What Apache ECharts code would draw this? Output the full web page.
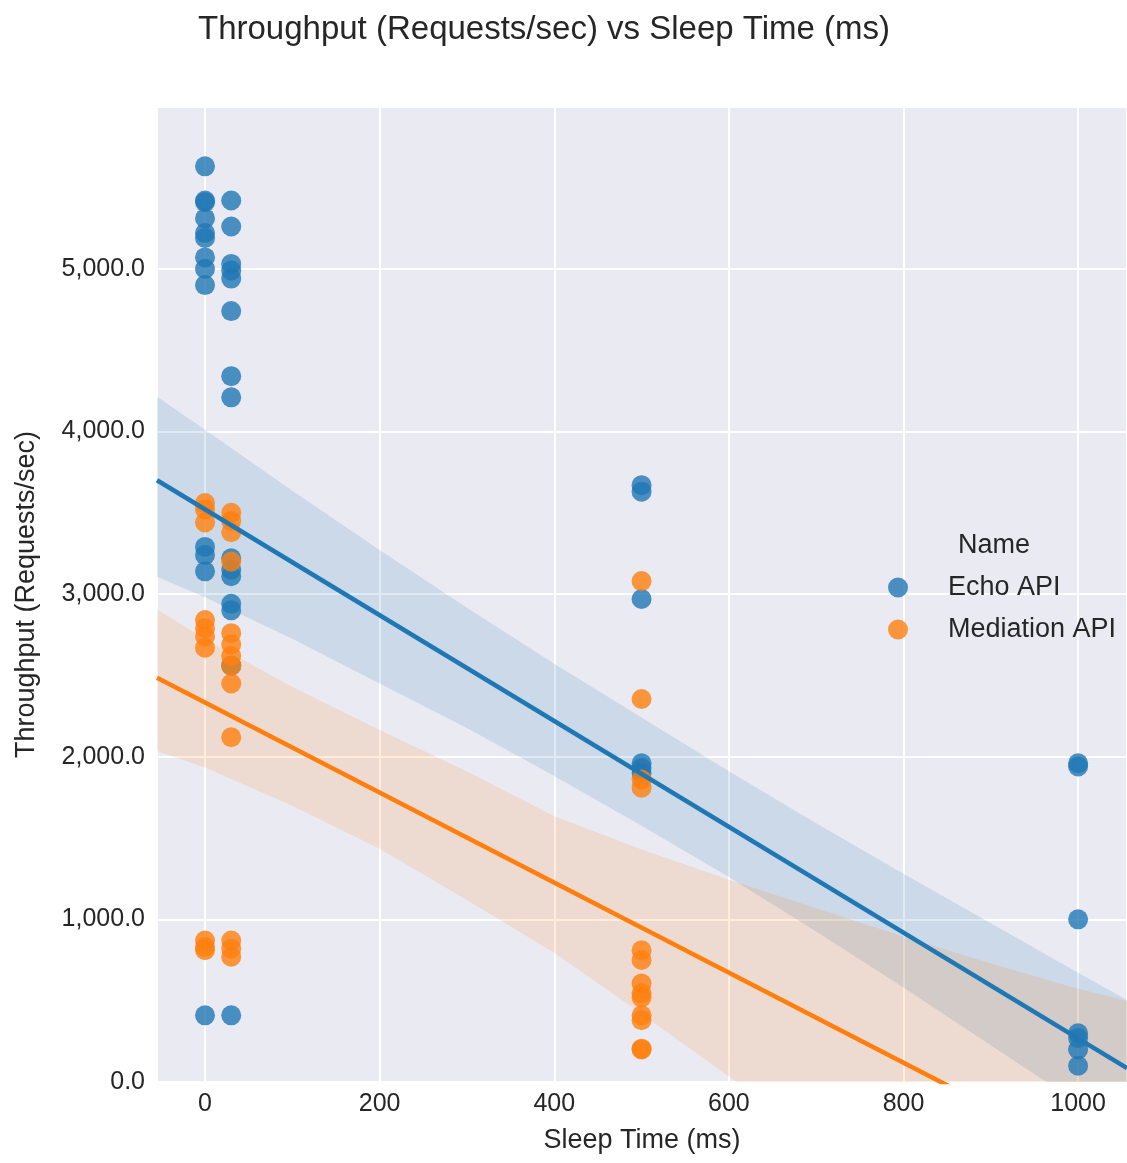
<!DOCTYPE html>
<html>
<head>
<meta charset="utf-8">
<script src="https://cdn.jsdelivr.net/npm/echarts@6/dist/echarts.min.js"></script>
<style>
  html, body { margin: 0; padding: 0; background: #ffffff; }
  #chart { width: 1127px; height: 1163px; }
</style>
</head>
<body>
<div id="chart"></div>
<script>
// Echo API measurements: sleep time (ms) and throughput (requests/sec)
const echoSleep = [
  0, 0, 0, 0, 0, 0, 0, 0, 0, 0, 0, 0, 0,
  30, 30, 30, 30, 30, 30, 30, 30, 30, 30, 30, 30, 30, 30, 30,
  500, 500, 500, 500, 500, 500,
  1000, 1000, 1000, 1000, 1000, 1000, 1000
];
const echoThroughput = [
  5630, 5420, 5410, 5310, 5220, 5190, 5070, 5000, 4900, 3290, 3240, 3140, 410,
  5420, 5260, 5030, 4990, 4940, 4740, 4340, 4210, 3220, 3150, 3110, 2940, 2900, 2560, 410,
  3670, 3630, 2970, 1960, 1930, 1900,
  1960, 1940, 1000, 300, 270, 200, 100
];

// Mediation API measurements
const mediationSleep = [
  0, 0, 0, 0, 0, 0, 0, 0, 0, 0,
  30, 30, 30, 30, 30, 30, 30, 30, 30, 30, 30, 30, 30,
  500, 500, 500, 500, 500, 500, 500, 500, 500, 500, 500, 500, 500
];
const mediationThroughput = [
  3560, 3520, 3440, 2840, 2790, 2740, 2670, 870, 830, 810,
  3500, 3450, 3380, 3200, 2760, 2690, 2620, 2560, 2450, 2120, 870, 820, 770,
  3080, 2355, 1860, 1810, 810, 750, 605, 545, 520, 410, 380, 205, 200
];

// Fitted regression lines (ends of the plotted x range)
const fitSleep = [-55, 1056];
const echoFit = [3700, 86];
const mediationFit = [2485, -590];

// 95% confidence bands around each fit
const bandSleep = [-55, 0, 100, 200, 300, 400, 500, 600, 700, 800, 900, 1000, 1056];
const echoLower = [3106, 2981, 2726, 2451, 2176, 1881, 1576, 1261, 926, 581, 226, -129, -331];
const echoUpper = [4213, 4010, 3636, 3271, 2916, 2571, 2241, 1911, 1591, 1281, 976, 671, 504];
const mediationLower = [2035, 1934, 1699, 1434, 1119, 794, 419, 34, -351, -736, -1121, -1516, -1740];
const mediationUpper = [2905, 2724, 2429, 2164, 1909, 1634, 1429, 1244, 1069, 894, 729, 574, 500];

const seriesNames = ['Echo API', 'Mediation API'];
const BLUE = '#1f77b4';
const ORANGE = '#ff7f0e';
const TEXT = '#262626';
const FONT = '"Liberation Sans", Arial, sans-serif';

function pairs(xs, ys) { return xs.map((x, i) => [x, ys[i]]); }
function bandRows(xs, lo, hi) { return xs.map((x, i) => [x, lo[i], hi[i]]); }

// Shaded confidence band drawn as one polygon through the axis scales
function bandSeries(name, rows, color) {
  return {
    type: 'custom',
    name: name,
    clip: true,
    silent: true,
    encode: { x: 0, y: [1, 2] },
    data: rows,
    renderItem: function (params, api) {
      if (params.dataIndex !== 0) return null;
      const top = rows.map(r => api.coord([r[0], r[2]]));
      const bottom = rows.map(r => api.coord([r[0], r[1]])).reverse();
      return {
        type: 'polygon',
        shape: { points: top.concat(bottom) },
        style: { fill: color, opacity: 0.15 }
      };
    }
  };
}

const numFmt = new Intl.NumberFormat('en-US', { minimumFractionDigits: 1, maximumFractionDigits: 1 });

const chart = echarts.init(document.getElementById('chart'), null, { renderer: 'canvas' });
chart.setOption({
  animation: false,
  backgroundColor: '#ffffff',
  textStyle: { fontFamily: FONT },
  title: {
    text: 'Throughput (Requests/sec) vs Sleep Time (ms)',
    left: 193,
    top: 8,
    textStyle: { fontFamily: FONT, fontSize: 33, fontWeight: 'normal', color: TEXT }
  },
  grid: {
    left: 157, top: 107, width: 970, height: 975,
    show: true, backgroundColor: '#EAEAF2', borderWidth: 0
  },
  legend: {
    data: seriesNames,
    orient: 'vertical',
    left: 883,
    top: 569,
    icon: 'circle',
    itemWidth: 90,
    itemHeight: 20,
    itemGap: 15,
    textStyle: { fontFamily: FONT, fontSize: 27, color: TEXT, lineHeight: 27 }
  },
  graphic: [{
    type: 'text',
    left: 958,
    top: 532,
    style: { text: 'Name', fontFamily: FONT, fontSize: 27, fill: TEXT }
  }],
  xAxis: {
    type: 'value',
    min: -55,
    max: 1056,
    splitNumber: 5,
    name: 'Sleep Time (ms)',
    nameLocation: 'middle',
    nameGap: 45,
    nameTextStyle: { fontFamily: FONT, fontSize: 27, color: TEXT },
    axisLine: { show: false },
    axisTick: { show: false },
    axisLabel: {
      showMinLabel: false, showMaxLabel: false,
      margin: 10, fontFamily: FONT, fontSize: 25, color: TEXT,
      formatter: v => String(v)
    },
    splitLine: { show: true, lineStyle: { color: '#ffffff', width: 2 } }
  },
  yAxis: {
    type: 'value',
    min: 0,
    max: 5995,
    splitNumber: 5,
    name: 'Throughput (Requests/sec)',
    nameLocation: 'middle',
    nameGap: 117,
    nameTextStyle: { fontFamily: FONT, fontSize: 27, color: TEXT },
    axisLine: { show: false },
    axisTick: { show: false },
    axisLabel: {
      showMaxLabel: false,
      margin: 12, fontFamily: FONT, fontSize: 25, color: TEXT,
      formatter: v => numFmt.format(v)
    },
    splitLine: { show: true, lineStyle: { color: '#ffffff', width: 2 } }
  },
  series: [
    {
      name: seriesNames[0],
      type: 'scatter',
      symbolSize: 20,
      itemStyle: { color: BLUE, opacity: 0.8 },
      data: pairs(echoSleep, echoThroughput)
    },
    bandSeries('Echo API band', bandRows(bandSleep, echoLower, echoUpper), BLUE),
    {
      name: 'Echo API fit',
      type: 'line',
      showSymbol: false,
      clip: true,
      lineStyle: { color: BLUE, width: 4.5 },
      data: pairs(fitSleep, echoFit)
    },
    {
      name: seriesNames[1],
      type: 'scatter',
      symbolSize: 20,
      itemStyle: { color: ORANGE, opacity: 0.8 },
      data: pairs(mediationSleep, mediationThroughput)
    },
    bandSeries('Mediation API band', bandRows(bandSleep, mediationLower, mediationUpper), ORANGE),
    {
      name: 'Mediation API fit',
      type: 'line',
      showSymbol: false,
      clip: true,
      lineStyle: { color: ORANGE, width: 4.5 },
      data: pairs(fitSleep, mediationFit)
    }
  ]
});
</script>
</body>
</html>
